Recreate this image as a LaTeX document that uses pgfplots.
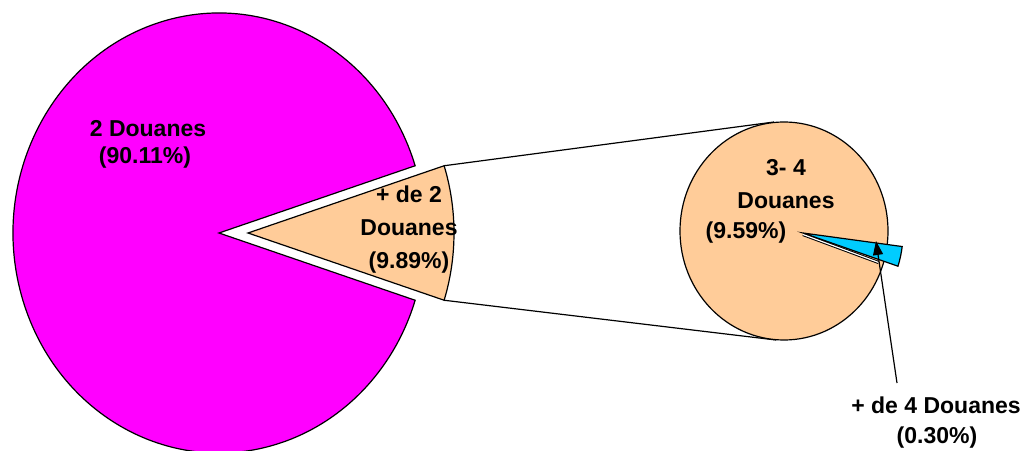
\documentclass[border=0pt]{standalone}
\usepackage{pgfplots}
\pgfplotsset{compat=1.18}
\usepackage{pgfplotstable}
\usepackage{fontspec}
\setmainfont{Liberation Sans}
\usetikzlibrary{arrows.meta}
\definecolor{pmag}{RGB}{255,0,255}
\definecolor{porange}{RGB}{255,204,153}
\definecolor{pblue}{RGB}{0,204,255}

\pgfplotstableread{
label value
a 90.11
b 9.89
}\mainpie
\pgfplotstableread{
label value
c 9.59
d 0.30
}\secpie

\begin{document}
\begin{tikzpicture}
\pgfplotstablegetelem{0}{value}\of\mainpie \let\vA\pgfplotsretval
\pgfplotstablegetelem{1}{value}\of\mainpie \let\vB\pgfplotsretval
\pgfplotstablegetelem{0}{value}\of\secpie \let\vC\pgfplotsretval
\pgfplotstablegetelem{1}{value}\of\secpie \let\vD\pgfplotsretval
\pgfmathsetmacro\hB{\vB/(\vA+\vB)*180}
\pgfmathsetmacro\hD{\vD/(\vC+\vD)*180}
\def\cx{219}\def\cy{217}\def\rx{206}\def\ry{220}\def\ex{248}
\pgfmathsetmacro\mxs{\cx+\rx*cos(\hB)}
\pgfmathsetmacro\mys{\cy+\ry*sin(\hB)}
\pgfmathsetmacro\mend{360-\hB}
\pgfmathsetmacro\mhB{-\hB}
\pgfmathsetmacro\oxs{\ex+\rx*cos(\hB)}
\pgfmathsetmacro\oys{\cy-\ry*sin(\hB)}
\pgfmathsetmacro\oxt{\ex+\rx*cos(\hB)}
\pgfmathsetmacro\oyt{\cy+\ry*sin(\hB)}
\def\sx{784}\def\sy{219}\def\srx{104}\def\sry{109}
\def\bx{803}\def\by{217}\def\bc{-12.8}\def\br{100}
\pgfmathsetmacro\ba{\bc-\hD}
\pgfmathsetmacro\bb{\bc+\hD}
\pgfmathsetmacro\bxs{\bx+\br*cos(\ba)}
\pgfmathsetmacro\bys{\by+1.06*\br*sin(\ba)}
\pgfmathsetmacro\gx{\bx+80*cos(\ba-1)}
\pgfmathsetmacro\gy{\by-1.5+80*1.06*sin(\ba-1)}
\begin{axis}[x=1pt,y=1pt,xmin=0,xmax=1031,ymin=0,ymax=450,
  hide axis, scale only axis, clip=true]
\addplot[draw=none] coordinates {(0,0) (1031,450)};
% main pie, large slice
\filldraw[fill=pmag, draw=black, line width=1.2pt]
  (axis cs:\cx,\cy) -- (axis cs:\mxs,\mys)
  arc[start angle=\hB, end angle=\mend, x radius=206pt, y radius=220pt] -- cycle;
% exploded slice
\filldraw[fill=porange, draw=black, line width=1.2pt]
  (axis cs:\ex,\cy) -- (axis cs:\oxs,\oys)
  arc[start angle=\mhB, end angle=\hB, x radius=206pt, y radius=220pt] -- cycle;
% connector lines
\draw[black, line width=1.2pt] (axis cs:\oxt,\oyt) -- (axis cs:774,328);
\draw[black, line width=1.2pt] (axis cs:\oxs,\oys) -- (axis cs:776,110);
% second pie
\filldraw[fill=porange, draw=black, line width=1.2pt]
  (axis cs:\sx,\sy) ellipse[x radius=104pt, y radius=109pt];
\filldraw[fill=pblue, draw=black, line width=1.2pt]
  (axis cs:\bx,\by) -- (axis cs:\bxs,\bys)
  arc[start angle=\ba, end angle=\bb, x radius=100pt, y radius=106pt] -- cycle;
\draw[black, line width=3.2pt] (axis cs:\bx,\by-1.5) -- (axis cs:\gx,\gy);
\draw[white, line width=1.2pt] (axis cs:\bx,\by-1.5) -- (axis cs:\gx,\gy);
% leader arrow
\draw[black, line width=1.2pt, -{Triangle[length=14pt,width=10pt]}]
  (axis cs:897,67) -- (axis cs:876,209);
% labels
\begin{scope}[every node/.style={font=\fontsize{23}{33}\selectfont\bfseries, text=black, inner sep=0pt}]
\node at (axis cs:148,321) {2 Douanes};
\node at (axis cs:145,292) {(90.11\%)};
\node[align=center] at (axis cs:409,220) {+ de 2\\Douanes\\(9.89\%)};
\node[align=center] at (axis cs:786,266) {3- 4\\Douanes};
\node at (axis cs:746,217) {(9.59\%)};
\node at (axis cs:936,45) {+ de 4 Douanes};
\node at (axis cs:937,12) {(0.30\%)};
\end{scope}
\end{axis}
\pgfresetboundingbox
\path (current axis.south west) rectangle (current axis.north east);
\end{tikzpicture}
\end{document}
